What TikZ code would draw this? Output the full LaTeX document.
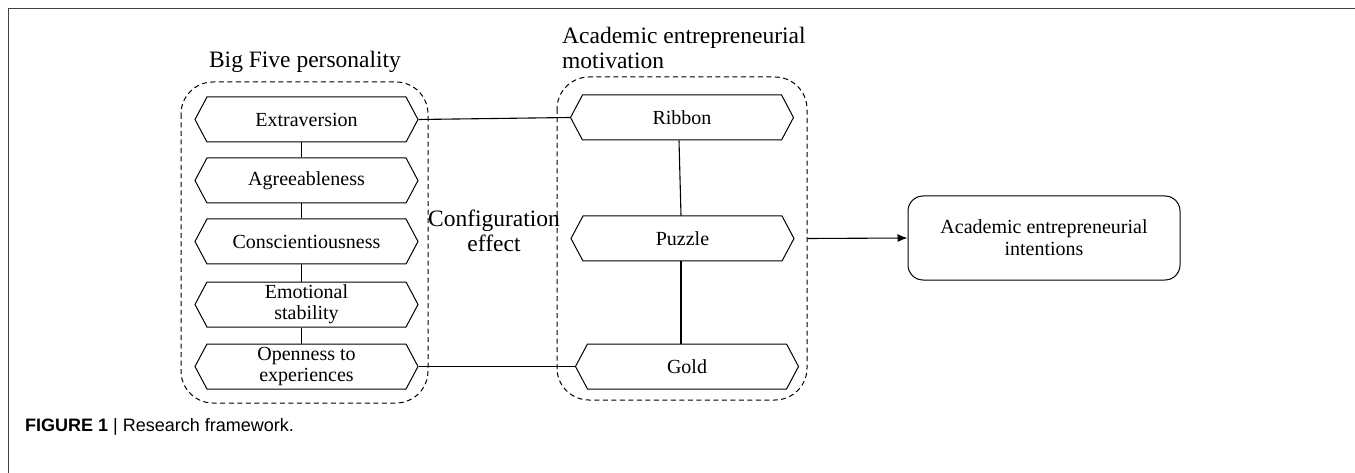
\documentclass[tikz,border=0pt]{standalone}
\usepackage{fontspec}
\setmainfont{Liberation Serif}
\newfontfamily\capfont{Liberation Sans}
\usetikzlibrary{shapes.symbols,arrows.meta}
\begin{document}
\begin{tikzpicture}[x=1pt,y=-1pt,
  hexbox/.style={draw=black, line width=1pt, shape=signal, signal to=west and east,
    signal pointer angle=124, minimum width=223pt, minimum height=45pt, inner sep=0pt,
    font=\fontsize{20}{23}\selectfont, align=center},
  grpbox/.style={draw=black, dashed, dash pattern=on 5pt off 3.5pt, line width=1pt, rounded corners=32pt},
  ttl/.style={font=\fontsize{23.5}{26}\selectfont, inner sep=0pt},
  link/.style={draw=black, line width=1.1pt},
  outbox/.style={draw=black, line width=1pt, rounded corners=15pt, minimum width=272pt,
    minimum height=84pt, inner sep=0pt, align=center, font=\fontsize{20}{22}\selectfont}]
\useasboundingbox (0,0) rectangle (1355,473);
% frame
\draw[black!75, line width=1.2pt] (8.5,473) -- (8.5,8.5) -- (1355,8.5);
% group boxes
\draw[grpbox] (181,82) rectangle (428,403);
\draw[grpbox] (557,77) rectangle (807,400);
% titles
\node[ttl] (t1) at (305,62) {Big Five personality};
\node[ttl, anchor=north west, align=left, font=\fontsize{23.5}{25}\selectfont] (t2) at (562,27) {Academic entrepreneurial\\motivation};
\node[ttl, align=center, font=\fontsize{23.5}{25}\selectfont] (cfg) at (494,231) {Configuration\\effect};
% left nodes
\node[hexbox] (ext) at (306.5,119.5) {Extraversion};
\node[hexbox] (agr) at (306.5,180.5) {Agreeableness};
\node[hexbox] (con) at (306.5,241.5) {Conscientiousness};
\node[hexbox, font=\fontsize{20}{21}\selectfont] (emo) at (306.5,304.5) {Emotional\\stability};
\node[hexbox, font=\fontsize{20}{21}\selectfont] (ope) at (306.5,366.5) {Openness to\\experiences};
% right nodes
\node[hexbox] (rib) at (682,117.5) {Ribbon};
\node[hexbox] (puz) at (682.5,238.5) {Puzzle};
\node[hexbox] (gol) at (687,366.5) {Gold};
% outcome
\node[outbox] (aei) at (1044,238) {Academic entrepreneurial\\intentions};
\coordinate (arrstart) at (807.5,238.5);
% connectors
\draw[link] ([xshift=-5pt]ext.south) -- ([xshift=-5pt]agr.north);
\draw[link] ([xshift=-5pt]agr.south) -- ([xshift=-5pt]con.north);
\draw[link] ([xshift=-5pt]con.south) -- ([xshift=-5pt]emo.north);
\draw[link] ([xshift=-5pt]emo.south) -- ([xshift=-5pt]ope.north);
\draw[link] ([xshift=-3pt]rib.south) -- ([xshift=-1.5pt]puz.north);
\draw[link] ([xshift=-1.5pt]puz.south) -- ([xshift=-6pt]gol.north);
\draw[link] (ext.east) -- (rib.west);
\draw[link] (ope.east) -- (gol.west);
\draw[link, -{Latex[length=10pt,width=8pt]}] (arrstart) -- (aei.west);
% caption
\node[anchor=west, inner sep=0pt, font=\capfont\fontsize{18}{20}\selectfont] (cap) at (25,427)
  {\textbf{FIGURE 1} | Research framework.};
\end{tikzpicture}
\end{document}
